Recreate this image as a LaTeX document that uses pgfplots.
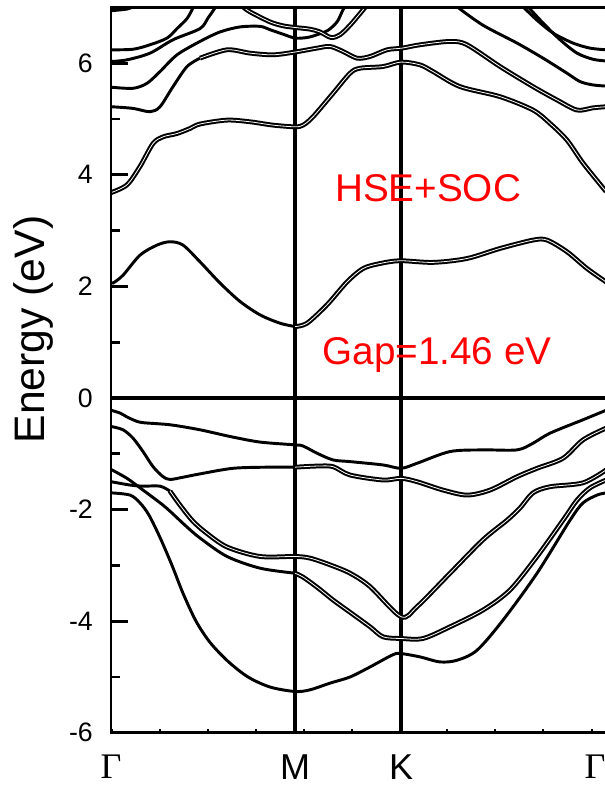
\documentclass[border=0pt]{standalone}
\usepackage{fontspec}
\setmainfont{Liberation Sans}
\newfontfamily\gfont{Liberation Serif}
\usepackage{pgfplots}
\pgfplotsset{compat=1.18}
\usetikzlibrary{calc}

\pgfplotsset{
  band/.style={black, line width=2.2pt, smooth, tension=0.5, no markers},
  dband/.style={black, line width=1.5pt, double=white, double distance=0.6pt,
                smooth, tension=0.5, no markers},
  symline/.style={black, line width=2.5pt, no markers},
}

\begin{document}
\begin{tikzpicture}
\begin{axis}[
  scale only axis, width=371.25pt, height=544pt,
  xmin=0, xmax=495, ymin=-6, ymax=7,
  axis line style={line width=2.2pt},
  axis on top,
  xtick pos=bottom, ytick pos=left,
  tick align=inside,
  xtick={0,184,290}, xticklabels={{\gfont Γ},M,K},
  extra x ticks={484}, extra x tick labels={{\gfont Γ}},
  extra x tick style={major tick length=0pt},
  minor xtick={1,49,97,145,193,241,289,336,384,432,481},
  minor tick length=2.5pt,
  minor tick style={line width=1.2pt, black},
  ytick={-6,-4,-2,0,2,4,6}, yticklabels={-6,-4,-2,0,2,4,6},
  extra y ticks={-5,-3,-1,1,3,5}, extra y tick labels={},
  extra y tick style={major tick length=6.75pt},
  major tick length=12.5pt,
  major tick style={line width=2.2pt, black},
  xticklabel style={font=\fontsize{27}{27}\selectfont, inner sep=0pt, yshift=-16.5pt},
  yticklabel style={font=\fontsize{20}{20}\selectfont, inner sep=0pt, xshift=-13.5pt},
  ylabel={Energy (eV)},
  ylabel style={font=\fontsize{32}{32}\selectfont, at={(axis description cs:-0.157,0.556)}, anchor=center},
]
\coordinate (ll) at (rel axis cs:0,0);
\coordinate (ur) at (rel axis cs:1,1);

% zero line and high-symmetry lines
\addplot[symline] coordinates {(0,0)(495,0)};
\addplot[symline] coordinates {(184,-6)(184,7)};
\addplot[symline] coordinates {(290,-6)(290,7)};

% valence bands
\addplot[band] coordinates {
(0,-0.22)(9,-0.27)(16,-0.34)(22,-0.39)(31,-0.44)(59,-0.48)(89,-0.57)(119,-0.69)
(149,-0.79)(184,-0.84)(192,-0.86)(206,-0.99)(222,-1.11)(239,-1.14)(272,-1.20)
(290,-1.26)(306,-1.17)(339,-0.96)(372,-0.93)(406,-0.93)(422,-0.81)(439,-0.63)
(472,-0.39)(495,-0.22)};
\addplot[band] coordinates {
(0,-0.51)(12,-0.57)(22,-0.72)(32,-0.96)(42,-1.23)(52,-1.41)(59,-1.46)(72,-1.42)
(89,-1.36)(122,-1.26)(156,-1.24)(184,-1.24)};
\addplot[dband] coordinates {
(184,-1.24)(206,-1.22)(222,-1.23)(239,-1.38)(272,-1.47)(290,-1.44)(306,-1.50)
(332,-1.65)(356,-1.74)(379,-1.65)(406,-1.41)(426,-1.26)(452,-1.08)(472,-0.75)
(495,-0.54)};
\addplot[band] coordinates {
(0,-1.28)(16,-1.44)(32,-1.65)(54,-1.95)(74,-2.28)(89,-2.51)(116,-2.84)(149,-3.05)
(184,-3.14)};
\addplot[dband] coordinates {
(184,-3.14)(192,-3.21)(206,-3.39)(222,-3.62)(239,-3.84)(259,-4.10)(272,-4.28)
(290,-4.31)(312,-4.31)(339,-4.10)(372,-3.80)(399,-3.44)(426,-2.84)(452,-2.19)
(466,-1.83)(479,-1.61)(495,-1.47)};
\addplot[band] coordinates {
(0,-1.50)(19,-1.56)(32,-1.58)(49,-1.58)(59,-1.67)};
\addplot[dband] coordinates {
(59,-1.67)(69,-1.92)(81,-2.19)(94,-2.40)(116,-2.67)(149,-2.84)(184,-2.84)(199,-2.87)
(219,-2.99)(239,-3.14)(259,-3.38)(290,-3.92)(306,-3.74)(339,-3.14)(372,-2.54)
(396,-2.19)(409,-1.97)(422,-1.70)(439,-1.59)(472,-1.52)(495,-1.29)};
\addplot[band] coordinates {
(0,-1.70)(19,-1.74)(29,-1.88)(38,-2.10)(49,-2.50)(61,-3.00)(72,-3.50)(85,-4.00)
(99,-4.38)(117,-4.72)(137,-5.00)(159,-5.18)(184,-5.26)(199,-5.23)(219,-5.11)
(239,-5.00)(259,-4.82)(282,-4.60)(290,-4.58)(309,-4.64)(329,-4.73)(346,-4.70)
(366,-4.52)(392,-3.98)(426,-3.14)(459,-2.19)(472,-1.88)(486,-1.74)(495,-1.70)};

% conduction bands
\addplot[band] coordinates {
(0,2.08)(2,2.06)(12,2.20)(29,2.56)(46,2.74)(59,2.80)(72,2.74)(89,2.44)(109,2.06)
(129,1.73)(149,1.49)(169,1.34)(184,1.28)};
\addplot[dband] coordinates {
(184,1.28)(196,1.34)(216,1.67)(236,2.08)(252,2.32)(269,2.41)(289,2.46)(322,2.43)
(356,2.50)(389,2.68)(422,2.83)(436,2.83)(456,2.62)(476,2.32)(495,2.08)};
\addplot[dband] coordinates {
(0,3.68)(16,3.82)(29,4.15)(42,4.56)(52,4.68)(66,4.74)(79,4.83)(89,4.91)(116,4.98)
(139,4.95)(162,4.89)(184,4.86)(192,4.89)(202,5.04)(222,5.46)(239,5.82)(249,5.91)
(272,5.94)(290,6.02)(309,5.97)(322,5.85)(349,5.58)(389,5.40)(422,5.16)(439,4.92)
(456,4.62)(472,4.21)(495,3.70)};
\addplot[band] coordinates {
(0,5.22)(22,5.19)(39,5.13)(49,5.22)(62,5.58)(76,5.94)(89,6.09)};
\addplot[dband] coordinates {
(89,6.09)(116,6.24)(139,6.18)(162,6.15)(184,6.20)(206,6.27)(219,6.30)(232,6.21)
(246,6.09)(259,6.12)(276,6.24)(291,6.27)(309,6.33)(339,6.39)(356,6.33)(389,5.94)
(422,5.58)(446,5.34)(466,5.16)(482,5.20)(495,5.22)};
\addplot[band] coordinates {
(0,5.57)(22,5.55)(36,5.64)(49,5.85)(66,6.15)(89,6.39)(109,6.56)(129,6.65)(149,6.66)
(159,6.60)(172,6.52)(184,6.45)(196,6.46)(206,6.51)(217,6.59)(226,6.74)(231,6.92)
(235,7.06)};
\addplot[dband] coordinates {
(132,7.01)(139,6.92)(159,6.74)(172,6.67)(184,6.64)(199,6.61)(209,6.56)(220,6.46)
(229,6.51)(239,6.68)(249,6.89)(255,7.02)};
\addplot[band] coordinates {
(0,6.24)(22,6.25)(39,6.33)(56,6.45)(66,6.62)(76,6.80)(82,6.99)(84,7.05)};
\addplot[band] coordinates {
(0,6.03)(16,6.06)(39,6.18)(62,6.42)(89,6.62)(97,6.81)(104,6.99)(106,7.05)};
\addplot[band] coordinates {
(0,6.94)(16,6.97)(24,7.02)(30,7.06)};
\addplot[band] coordinates {
(344,7.05)(346,7.01)(372,6.68)(406,6.36)(432,6.09)(456,5.82)(469,5.67)(482,5.61)
(495,5.59)};
\addplot[band] coordinates {
(410,7.05)(412,7.01)(426,6.77)(442,6.54)(462,6.36)(479,6.27)(495,6.24)};
\addplot[band] coordinates {
(415,7.05)(417,7.01)(432,6.72)(449,6.42)(466,6.18)(482,6.07)(495,6.04)};

\node[red, font=\fontsize{29}{29}\selectfont] at (axis cs:317,3.76) {HSE+SOC};
\node[red, font=\fontsize{29}{29}\selectfont] at (axis cs:326,0.77) {Gap=1.46 eV};
\end{axis}
\pgfresetboundingbox
\path[use as bounding box] ($(ll)+(-83.25pt,-45.9pt)$) rectangle ($(ur)+(-1.1pt,5.55pt)$);
\end{tikzpicture}
\end{document}
